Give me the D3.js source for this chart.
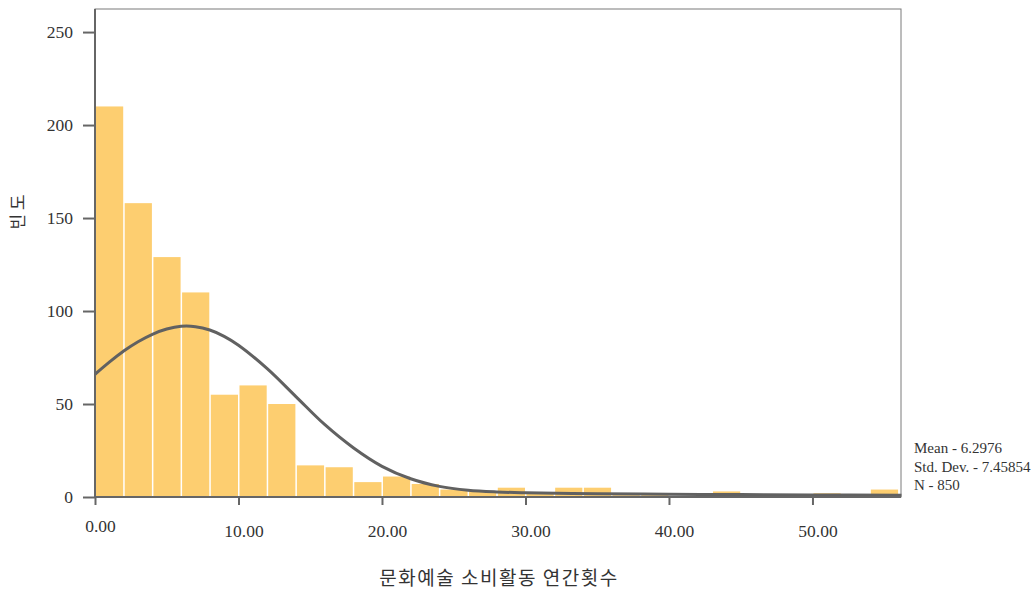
<!DOCTYPE html>
<html>
<head>
<meta charset="utf-8">
<script src="https://cdn.jsdelivr.net/npm/d3@7"></script>
<style>
  html, body { margin: 0; padding: 0; background: #fff; }
  svg { display: block; }
</style>
</head>
<body>
<svg id="chart" width="1034" height="590"></svg>
<script>
// ---- data ----
const binStarts = [0, 2, 4, 6, 8, 10, 12, 14, 16, 18, 20, 22, 24, 26, 28, 30, 32, 34, 36, 38, 43, 50, 54];
const counts    = [210, 158, 129, 110, 55, 60, 50, 17, 16, 8, 11, 7, 4, 3, 5, 2, 5, 5, 1, 1, 3, 2, 4];
const binWidth = 2;
const curveX = [0, 1, 2, 3, 4, 5, 6, 7, 8, 9, 10, 12, 14, 16, 18, 20, 22, 24, 26, 28, 30, 35, 40, 45, 50, 56.2];
const curveY = [66, 72.5, 78.5, 83.5, 87.5, 90.3, 91.8, 91.6, 89.8, 86.4, 81.6, 69, 54, 39, 26.5, 16.5, 9.8, 5.7, 3.6, 2.7, 2.3, 1.8, 1.5, 1.3, 1.1, 0.9];
const xTicks = [0, 10, 20, 30, 40, 50];
const xTickLabels = ["0.00", "10.00", "20.00", "30.00", "40.00", "50.00"];
const yTicks = [0, 50, 100, 150, 200, 250];
const statsLines = ["Mean - 6.2976", "Std. Dev. - 7.45854", "N - 850"];
const xTitle = "문화예술 소비활동 연간횟수";
const yTitle = "빈 도";

// ---- layout ----
const pLeft = 95, pRight = 901, pTop = 9, pBottom = 497;
const svg = d3.select("#chart");
const x = d3.scaleLinear().domain([0, 56.17]).range([pLeft, pRight]);
const y = d3.scaleLinear().domain([0, 262.4]).range([pBottom, pTop]);

const serif = "'Liberation Serif', 'DejaVu Serif', serif";

// frame
svg.append("rect")
  .attr("x", pLeft).attr("y", pTop)
  .attr("width", pRight - pLeft).attr("height", pBottom - pTop)
  .attr("fill", "none").attr("stroke", "#7a7a7a").attr("stroke-width", 1);

// bars
svg.append("g").selectAll("rect")
  .data(binStarts.map((b, i) => ({ b, c: counts[i] })))
  .join("rect")
  .attr("x", d => x(d.b) + 1)
  .attr("width", d => x(d.b + binWidth) - x(d.b) - 1.5)
  .attr("y", d => y(d.c))
  .attr("height", d => y(0) - y(d.c))
  .attr("fill", "#FDCE70");

// curve
const line = d3.line()
  .x(d => x(d[0])).y(d => y(d[1]))
  .curve(d3.curveCatmullRom.alpha(0.5));
svg.append("path")
  .datum(curveX.map((v, i) => [v, curveY[i]]))
  .attr("d", line)
  .attr("fill", "none")
  .attr("stroke", "#616161")
  .attr("stroke-width", 3)
  .attr("stroke-linejoin", "round");

// y axis
const yAxis = svg.append("g")
  .attr("transform", `translate(${pLeft},0)`)
  .call(d3.axisLeft(y).tickValues(yTicks).tickSize(12).tickPadding(10).tickFormat(d3.format("d")));
yAxis.select(".domain").attr("stroke", "#666").attr("stroke-width", 2)
  .attr("d", `M0,${pTop}V${pBottom}`);
yAxis.selectAll(".tick line").attr("stroke", "#666").attr("stroke-width", 2);
yAxis.selectAll(".tick text")
  .attr("font-family", serif).attr("font-size", 17.5).attr("fill", "#333");

// x axis
const xAxis = svg.append("g")
  .attr("transform", `translate(0,${pBottom})`)
  .call(d3.axisBottom(x).tickValues(xTicks).tickSize(8).tickPadding(12)
    .tickFormat((d, i) => xTickLabels[i]));
xAxis.select(".domain").attr("stroke", "#666").attr("stroke-width", 2)
  .attr("d", `M${pLeft},0H${pRight}`);
xAxis.selectAll(".tick line").attr("stroke", "#666").attr("stroke-width", 2);
xAxis.selectAll(".tick text")
  .attr("font-family", serif).attr("font-size", 17.5).attr("fill", "#333")
  .attr("dx", 5)
  .attr("dy", (d, i) => i === 0 ? "14.5px" : "19.5px");

// titles
svg.append("text")
  .attr("x", 499).attr("y", 585)
  .attr("text-anchor", "middle")
  .attr("font-family", "'Noto Sans CJK KR', sans-serif")
  .attr("font-size", 19).attr("letter-spacing", 1.5).attr("fill", "#333")
  .text(xTitle);

svg.append("text")
  .attr("transform", "translate(24,212) rotate(-90)")
  .attr("text-anchor", "middle")
  .attr("font-family", "'Noto Sans CJK KR', sans-serif")
  .attr("font-size", 17).attr("fill", "#333")
  .text(yTitle);

// stats
svg.append("g").selectAll("text")
  .data(statsLines)
  .join("text")
  .attr("x", 914)
  .attr("y", (d, i) => 453 + i * 18.5)
  .attr("font-family", serif).attr("font-size", 15).attr("fill", "#333")
  .text(d => d);
</script>
</body>
</html>
